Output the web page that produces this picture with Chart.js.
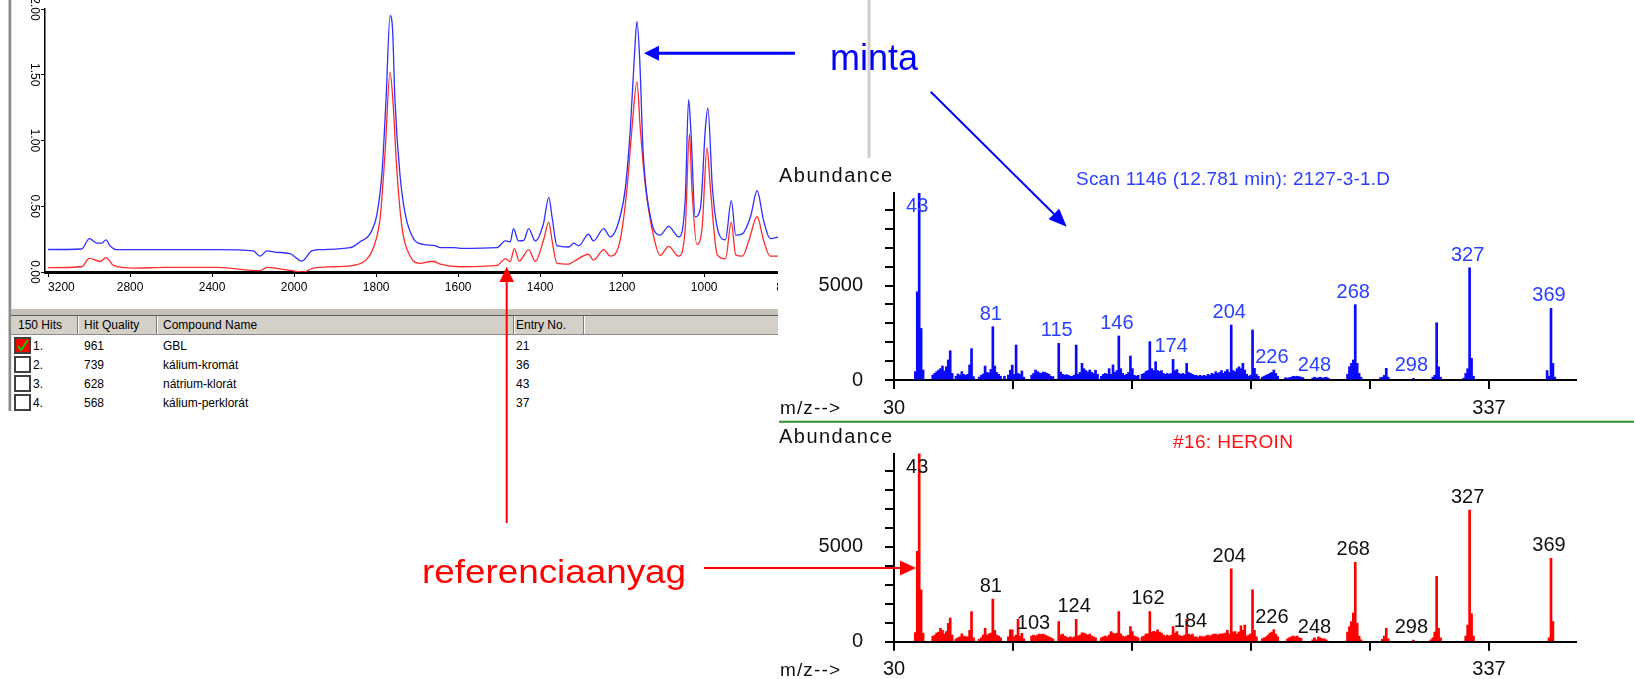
<!DOCTYPE html>
<html>
<head>
<meta charset="utf-8">
<script src="https://cdn.jsdelivr.net/npm/chart.js@4.4.0/dist/chart.umd.min.js"></script>
<style>
  html, body { margin: 0; padding: 0; background: #fff; }
  body { position: relative; width: 1634px; height: 679px; overflow: hidden;
         font-family: 'Liberation Sans', Arial, sans-serif; }
  canvas { position: absolute; }
  #irFrame { position: absolute; left: 8px; top: 0; width: 2px; height: 411px;
             background: #8a8a8a; border-left: 1px solid #c8c8c8; border-right: 1px solid #e6e6e6; }
  #hits { position: absolute; left: 11px; top: 309px; width: 767px; height: 102px;
          overflow: hidden; font-size: 12px; color: #000; }
  #hits .band { position: absolute; left: 0; top: 0; width: 100%; height: 6px; background: #c6c2ba; }
  #hits .head { position: absolute; left: 0; top: 6px; width: 100%; height: 18px; background: #d4d0c8;
                border-top: 1px solid #5a5a5a; border-bottom: 1px solid #8a8a8a; }
  #hits .sep { position: absolute; top: 0; width: 1px; height: 18px; background: #7a7a7a;
               border-right: 1px solid #fff; }
  #hits .cell { position: absolute; white-space: nowrap; line-height: 18px; }
  #hits .box { position: absolute; width: 13px; height: 13px; background: #fff;
               border: 2px solid #404040; }
  #notes { position: absolute; left: 0; top: 0; z-index: 5; }
</style>
</head>
<body>
<div id="irFrame"></div>
<canvas id="ir" width="778" height="300" style="left:0;top:0"></canvas>
<div id="hits">
  <div class="band"></div>
  <div class="head" id="hitsHead"></div>
</div>
<canvas id="msSample" width="864" height="236" style="left:770px;top:184px"></canvas>
<canvas id="msRef" width="864" height="234" style="left:770px;top:445px"></canvas>

<svg id="notes" width="1634" height="679" font-family="'Liberation Sans', Arial, sans-serif">
  <line x1="869" y1="0" x2="869" y2="158" stroke="#d2cec6" stroke-width="3"/>
  <line x1="779" y1="421.7" x2="1634" y2="421.7" stroke="#2f8f2f" stroke-width="2"/>

  <text x="779" y="182" font-size="20" fill="#111" textLength="113" lengthAdjust="spacing">Abundance</text>
  <text x="780" y="414" font-size="19" fill="#111" textLength="60" lengthAdjust="spacing">m/z--&gt;</text>
  <text x="1076" y="185" font-size="19" fill="#2a40ff" textLength="314" lengthAdjust="spacing">Scan 1146 (12.781 min): 2127-3-1.D</text>

  <text x="779" y="443" font-size="20" fill="#111" textLength="113" lengthAdjust="spacing">Abundance</text>
  <text x="780" y="676" font-size="19" fill="#111" textLength="60" lengthAdjust="spacing">m/z--&gt;</text>
  <text x="1173" y="448" font-size="19" fill="#ff1010" textLength="120" lengthAdjust="spacing">#16: HEROIN</text>

  <text x="830" y="70" font-size="36" fill="#0000ff" textLength="88" lengthAdjust="spacingAndGlyphs">minta</text>
  <text x="422" y="583" font-size="34" fill="#ff0000" textLength="264" lengthAdjust="spacingAndGlyphs">referenciaanyag</text>

  <!-- arrows -->
  <line x1="795" y1="53.3" x2="657" y2="53.3" stroke="#0000ff" stroke-width="3"/>
  <polygon points="644,53.3 659,45.8 659,60.8" fill="#0000ff"/>
  <line x1="930.7" y1="91.7" x2="1054" y2="214" stroke="#0000ff" stroke-width="2"/>
  <polygon points="1066.7,226.7 1048.6,219.3 1059.2,208.7" fill="#0000ff"/>
  <line x1="506.7" y1="523" x2="506.7" y2="281" stroke="#ff0000" stroke-width="2"/>
  <polygon points="506.7,266.7 499.5,282 513.9,282" fill="#ff0000"/>
  <line x1="704" y1="568" x2="901" y2="568" stroke="#ff0000" stroke-width="2"/>
  <polygon points="916,568 900,560.5 900,575.5" fill="#ff0000"/>
</svg>

<script>
// ---- IR spectrum (sample = blue, library reference = red) ----
const irWaveSample = [3200, 3036, 2999, 2962, 2938, 2917, 2898, 2865, 2377, 2199, 2166, 2133, 2085, 2020,
  1981, 1957, 1937, 1863, 1839, 1815, 1798, 1786, 1776, 1766, 1760, 1754, 1742, 1729, 1709, 1685,
  1656, 1644, 1611, 1595, 1505, 1485, 1473, 1465, 1453, 1440, 1428, 1412, 1392, 1379, 1371, 1359,
  1330, 1318, 1306, 1282, 1270, 1245, 1229, 1205, 1192, 1180, 1170, 1164, 1157, 1149, 1131, 1107,
  1087, 1062, 1046, 1038, 1032, 1022, 1009, 997, 991, 980, 964, 948, 934, 923, 907, 887, 871, 855, 839, 818];
const irAbsSample = [0.171, 0.175, 0.254, 0.22, 0.22, 0.245, 0.20, 0.17, 0.17, 0.16, 0.12, 0.16, 0.15, 0.14,
  0.083, 0.16, 0.17, 0.185, 0.23, 0.29, 0.44, 0.744, 1.30, 1.95, 1.85, 1.30, 0.744, 0.44, 0.254, 0.21,
  0.20, 0.185, 0.186, 0.18, 0.186, 0.236, 0.23, 0.33, 0.236, 0.24, 0.33, 0.236, 0.367, 0.568, 0.42, 0.20,
  0.19, 0.22, 0.20, 0.287, 0.236, 0.33, 0.267, 0.42, 0.643, 1.096, 1.65, 1.905, 1.60, 0.92, 0.42, 0.28,
  0.347, 0.267, 0.568, 1.31, 1.05, 0.42, 0.49, 1.096, 1.247, 0.643, 0.29, 0.245, 0.543, 0.28, 0.29, 0.42, 0.618, 0.39, 0.254, 0.267];

const irWaveRef = [3200, 3036, 2999, 2946, 2917, 2881, 2784, 2621, 2377, 2166, 2133, 2052, 1977, 1953,
  1904, 1855, 1822, 1806, 1790, 1778, 1766, 1758, 1750, 1737, 1717, 1692, 1668, 1660, 1644, 1595,
  1505, 1485, 1473, 1463, 1451, 1428, 1412, 1392, 1379, 1371, 1359, 1330, 1318, 1282, 1270, 1245,
  1229, 1205, 1188, 1176, 1164, 1156, 1143, 1123, 1107, 1087, 1062, 1046, 1036, 1030, 1018, 1005,
  993, 985, 968, 948, 934, 923, 907, 891, 871, 855, 839, 818];
const irAbsRef = [0.033, 0.04, 0.103, 0.08, 0.11, 0.05, 0.03, 0.035, 0.035, 0.01, 0.035, 0.02, 0.0, 0.03,
  0.04, 0.05, 0.10, 0.19, 0.417, 0.92, 1.52, 1.25, 0.80, 0.34, 0.12, 0.066, 0.08, 0.08, 0.06, 0.04,
  0.05, 0.10, 0.08, 0.178, 0.083, 0.17, 0.08, 0.24, 0.38, 0.24, 0.066, 0.06, 0.08, 0.135, 0.09, 0.17,
  0.12, 0.24, 0.643, 1.096, 1.448, 1.096, 0.643, 0.267, 0.126, 0.195, 0.12, 0.34, 1.05, 0.643, 0.21, 0.34,
  0.945, 0.643, 0.13, 0.10, 0.38, 0.13, 0.12, 0.24, 0.42, 0.24, 0.12, 0.12];

// 800 sits just past the cut-off right edge, as in the original window
const irTicksWave = [3200, 2800, 2400, 2000, 1800, 1600, 1400, 1200, 1000, 800];
const irTicksAbs = [0, 0.5, 1, 1.5, 2];

// ---- hit list ----
const hitRank = ['1.', '2.', '3.', '4.'];
const hitQuality = ['961', '739', '628', '568'];
const hitCompound = ['GBL', 'kálium-kromát', 'nátrium-klorát', 'kálium-perklorát'];
const hitEntry = ['21', '36', '43', '37'];
const hitHeaders = ['150 Hits', 'Hit Quality', 'Compound Name', 'Entry No.'];

// ---- mass spectra ----
const sampleMz = [41, 42, 43, 44, 45,
  50, 51, 52, 53, 54, 55, 56, 57, 58, 59, 60,
  62, 63, 64, 65, 66, 67, 68, 69, 70, 71,
  74, 75, 76, 77, 78, 79, 80, 81, 82, 83, 84, 85,
  87, 89, 90, 91, 92, 93, 94, 95, 96, 97,
  101, 102, 103, 104, 105, 106, 107, 108, 109, 110, 111, 112,
  115, 116, 117, 118, 119, 120, 121, 122, 123, 124, 125, 126, 127, 128, 129, 130, 131, 132, 133, 134, 135,
  137, 138, 139, 140, 141, 142, 143, 144, 145, 146, 147, 148, 149, 150, 151, 152, 153, 154, 155, 156,
  158, 159, 160, 161, 162, 163, 164, 165, 166, 167, 168, 169, 170, 171, 172, 173, 174, 175, 176, 177, 178, 179, 180, 181, 182, 183, 184, 185,
  186, 187, 188, 189, 190, 191, 192, 193, 194, 195, 196, 197, 198, 199, 200, 201, 202, 203, 204, 205, 206, 207, 208, 209, 210, 211, 212, 213, 214, 215, 216, 217, 218,
  220, 221, 222, 223, 224, 225, 226, 227, 228,
  232, 233, 234, 235, 236, 237, 238, 239, 240, 241,
  246, 247, 248, 249, 250, 251, 252, 253, 254,
  264, 265, 266, 267, 268, 269, 270, 271,
  281, 282, 283, 284, 285,
  298,
  308, 309, 310, 311, 312,
  324, 325, 326, 327, 328, 329,
  367, 368, 369, 370, 371];
const sampleAbund = [440, 4670, 10000, 2730, 530,
  260, 350, 440, 520, 600, 740, 480, 700, 1060, 1550, 350,
  200, 320, 260, 440, 300, 250, 300, 800, 1660, 180,
  150, 250, 320, 740, 400, 380, 560, 2820, 740, 400, 300, 200,
  200, 260, 520, 790, 300, 1850, 350, 300, 480, 150,
  250, 350, 530, 450, 380, 350, 420, 400, 350, 300, 200, 180,
  1940, 420, 300, 260, 280, 250, 200, 200, 260, 1850, 300, 400, 880, 600, 500, 420, 530, 400, 350, 520, 300,
  200, 300, 350, 300, 600, 300, 800, 400, 500, 2330, 600, 350, 250, 300, 400, 1270, 600, 250, 200, 250,
  300, 350, 450, 500, 2030, 600, 500, 970, 500, 450, 500, 350, 300, 350, 300, 350, 1090, 500, 550, 350, 300, 350, 300, 880, 400, 350, 300, 250,
  250, 200, 250, 200, 250, 200, 300, 250, 350, 300, 440, 350, 400, 500, 350, 450, 550, 400, 2910, 500, 440, 600, 700, 600, 880, 530, 300, 200, 250, 2650, 620, 300, 200,
  150, 200, 250, 300, 350, 400, 530, 350, 200,
  120, 100, 120, 150, 200, 180, 200, 180, 150, 120,
  100, 150, 100, 120, 150, 100, 120, 150, 100,
  300, 700, 880, 1060, 3990, 880, 350, 150,
  120, 150, 250, 620, 150,
  90,
  150, 250, 3030, 700, 150,
  100, 350, 600, 5940, 1150, 200,
  500, 200, 3790, 880, 150];
const sampleLabels = [43, 81, 115, 146, 174, 204, 226, 248, 268, 298, 327, 369];

const refMz = [41, 42, 43, 44, 45,
  50, 51, 52, 53, 54, 55, 56, 57, 58, 59, 60,
  62, 63, 64, 65, 66, 67, 68, 69, 70, 71,
  74, 75, 76, 77, 78, 79, 80, 81, 82, 83, 84, 85,
  89, 90, 91, 92, 93, 94, 95, 96, 97,
  101, 102, 103, 104, 105, 106, 107, 108, 109, 110, 111, 112,
  115, 116, 117, 118, 119, 120, 121, 122, 123, 124, 125, 126, 127, 128, 129, 130, 131, 132, 133, 134,
  137, 138, 139, 140, 141, 142, 143, 144, 145, 146, 147, 148, 149, 150, 151, 152, 153, 154, 155, 156,
  158, 159, 160, 161, 162, 163, 164, 165, 166, 167, 168, 169, 170, 171, 172, 173, 174, 175, 176, 177, 178, 179, 180, 181, 182, 183, 184, 185,
  186, 187, 188, 189, 190, 191, 192, 193, 194, 195, 196, 197, 198, 199, 200, 201, 202, 203, 204, 205, 206, 207, 208, 209, 210, 211, 212, 213, 214, 215, 216, 217,
  220, 221, 222, 223, 224, 225, 226, 227, 228,
  233, 234, 235, 236, 237, 238, 239, 240,
  246, 247, 248, 249, 250, 251, 252, 253,
  264, 265, 266, 267, 268, 269, 270, 271,
  282, 283, 284, 285,
  298,
  307, 308, 309, 310, 311, 312,
  325, 326, 327, 328, 329,
  368, 369, 370];
const refAbund = [476, 4760, 10050, 2730, 440,
  280, 350, 450, 500, 700, 600, 420, 530, 970, 1240, 350,
  150, 200, 250, 420, 300, 250, 250, 600, 1590, 200,
  120, 200, 350, 700, 350, 420, 450, 2240, 600, 350, 300, 200,
  250, 620, 620, 250, 350, 1180, 300, 440, 150,
  300, 350, 300, 350, 400, 380, 400, 350, 300, 250, 200, 150,
  1060, 350, 400, 300, 250, 200, 250, 200, 250, 1180, 300, 350, 470, 450, 400, 350, 400, 300, 250, 200,
  200, 250, 300, 250, 350, 530, 450, 400, 450, 1590, 420, 300, 250, 300, 350, 800, 530, 300, 250, 200,
  250, 300, 400, 420, 1590, 500, 550, 500, 620, 500, 450, 350, 300, 350, 300, 350, 800, 450, 530, 350, 300, 300, 350, 1180, 400, 350, 400, 250,
  250, 200, 300, 250, 250, 300, 350, 300, 350, 400, 400, 350, 400, 420, 420, 450, 600, 400, 3830, 500, 530, 400, 500, 830, 600, 880, 300, 350, 420, 2730, 600, 250,
  150, 200, 250, 350, 450, 500, 640, 400, 250,
  150, 200, 250, 300, 250, 300, 200, 180,
  100, 200, 100, 250, 200, 150, 150, 100,
  500, 800, 1060, 1500, 4180, 970, 300, 100,
  120, 300, 700, 150,
  90,
  100, 200, 500, 3440, 700, 200,
  300, 880, 6930, 1460, 300,
  200, 4380, 1060];
const refLabels = [43, 81, 103, 124, 162, 184, 204, 226, 248, 268, 298, 327, 369];

const msTicksMz = [30, 91.4, 152.8, 214.2, 275.6, 337];
const msTickLabels = [30, 337];
const msTicksAbund = [0, 1000, 2000, 3000, 4000, 5000, 6000, 7000, 8000, 9000];
const msAbundLabels = [0, 5000];

Chart.defaults.font.family = "'Liberation Sans', Arial, sans-serif";
Chart.defaults.color = '#000';

// the IR axis is compressed above 2000 cm-1 (half scale), so plot on a folded axis
function toFold(w) { return w >= 2000 ? 3200 - w : 1200 + (2000 - w) * 2; }
function fromFold(p) { return p <= 1200 ? 3200 - p : 2000 - (p - 1200) / 2; }

// fixed axis sizes, no extra label padding pushed into the layout
function fixWidth(w) {
  return (s) => { s.width = w; s.paddingTop = 0; s.paddingBottom = 0; };
}
function fixHeight(h) {
  return (s) => { s.height = h; s.paddingLeft = 0; s.paddingRight = 0; };
}

new Chart(document.getElementById('ir'), {
  type: 'line',
  data: {
    datasets: [
      {
        label: 'minta',
        data: irWaveSample.map((w, i) => ({ x: toFold(w), y: irAbsSample[i] })),
        borderColor: '#2f2fff',
        borderWidth: 1.3,
        pointRadius: 0,
        cubicInterpolationMode: 'monotone'
      },
      {
        label: 'referencia',
        data: irWaveRef.map((w, i) => ({ x: toFold(w), y: irAbsRef[i] })),
        borderColor: '#ff2a2a',
        borderWidth: 1.3,
        pointRadius: 0,
        cubicInterpolationMode: 'monotone'
      }
    ]
  },
  options: {
    responsive: false,
    animation: false,
    devicePixelRatio: 1,
    layout: { padding: { top: 9, right: 0, bottom: 0, left: 0 } },
    plugins: { legend: { display: false }, tooltip: { enabled: false } },
    scales: {
      x: {
        type: 'linear',
        min: -15,
        max: 3560,
        afterBuildTicks: (s) => {
          // trailing blank tick so that 'inner' only left-aligns the first label
          s.ticks = irTicksWave.map(w => ({ value: toFold(w) })).concat([{ value: 4000 }]);
        },
        afterFit: fixHeight(28),
        ticks: { autoSkip: false, maxRotation: 0, padding: 3, align: 'inner', font: { size: 12 }, color: '#000',
                 callback: (v) => v > 3600 ? '' : String(fromFold(v)) },
        grid: { drawOnChartArea: false, drawTicks: true, tickLength: 5, color: '#000' },
        border: { display: true, color: '#000', width: 3 }
      },
      y: {
        min: 0,
        max: 2,
        afterBuildTicks: (s) => { s.ticks = irTicksAbs.map(v => ({ value: v })); },
        afterFit: fixWidth(45),
        ticks: { autoSkip: false, minRotation: -90, maxRotation: -90, crossAlign: 'center', padding: -5,
                 font: { size: 12 }, color: '#000', callback: (v) => v.toFixed(2) },
        grid: { drawOnChartArea: false, drawTicks: true, tickLength: 4, color: '#000' },
        border: { display: true, color: '#000', width: 1.5 }
      }
    }
  }
});

// mass-spectrum peak labels, centred above the peak and kept inside the plot
function peakLabels(id, mzList, abundList, labelList, color) {
  return {
    id: id,
    afterDatasetsDraw(chart) {
      const { ctx, chartArea, scales: { x, y } } = chart;
      ctx.save();
      ctx.font = "20px 'Liberation Sans', Arial, sans-serif";
      ctx.fillStyle = color;
      ctx.textAlign = 'center';
      ctx.textBaseline = 'alphabetic';
      labelList.forEach(m => {
        const i = mzList.indexOf(m);
        const h = i >= 0 ? abundList[i] : 0;
        let base = y.getPixelForValue(Math.min(h, y.max)) - 7;
        base = Math.max(base, chartArea.top + 19);
        ctx.fillText(String(m), x.getPixelForValue(m) - 2, base);
      });
      ctx.restore();
    }
  };
}

function massSpectrum(canvasId, mzList, abundList, barColor, labelList, labelColor, padTop, axisHeight) {
  return new Chart(document.getElementById(canvasId), {
    type: 'bar',
    data: {
      datasets: [{
        data: mzList.map((m, i) => ({ x: m, y: abundList[i] })),
        backgroundColor: barColor,
        borderWidth: 0,
        barThickness: 2
      }]
    },
    options: {
      responsive: false,
      animation: false,
      devicePixelRatio: 1,
      layout: { padding: { top: padTop, right: 58, bottom: 0, left: 0 } },
      plugins: { legend: { display: false }, tooltip: { enabled: false } },
      scales: {
        x: {
          type: 'linear',
          offset: false,
          min: 30,
          max: 381.9,
          afterBuildTicks: (s) => { s.ticks = msTicksMz.map(v => ({ value: v })); },
          afterFit: fixHeight(axisHeight),
          ticks: { autoSkip: false, maxRotation: 0, padding: 7, font: { size: 20 }, color: '#111',
                   callback: (v) => msTickLabels.includes(v) ? String(v) : '' },
          grid: { offset: false, drawOnChartArea: false, drawTicks: true, tickLength: 9, color: '#000', lineWidth: 2 },
          border: { display: true, color: '#000', width: 2 }
        },
        y: {
          min: 0,
          max: 9900,
          afterBuildTicks: (s) => { s.ticks = msTicksAbund.map(v => ({ value: v })); },
          afterFit: fixWidth(124),
          ticks: { autoSkip: false, padding: 22, font: { size: 20 }, color: '#111',
                   callback: (v) => msAbundLabels.includes(v) ? String(v) : '' },
          grid: { drawOnChartArea: false, drawTicks: true, tickLength: 9, color: '#000', lineWidth: 2 },
          border: { display: true, color: '#000', width: 2 }
        }
      }
    },
    plugins: [peakLabels(canvasId + 'Labels', mzList, abundList, labelList, labelColor)]
  });
}

massSpectrum('msSample', sampleMz, sampleAbund, '#0a0aff', sampleLabels, '#2a40ff', 9, 40);
massSpectrum('msRef', refMz, refAbund, '#ff0000', refLabels, '#111', 8.5, 37.3);

// hit list table
const hits = document.getElementById('hits');
const head = document.getElementById('hitsHead');
const colText = [7, 73, 152, 505];
const colSep = [66, 145, 502, 572];
colSep.forEach(x => {
  const d = document.createElement('div');
  d.className = 'sep';
  d.style.left = x + 'px';
  head.appendChild(d);
});
hitHeaders.forEach((t, i) => {
  const d = document.createElement('div');
  d.className = 'cell';
  d.style.left = colText[i] + 'px';
  d.style.top = '0px';
  d.textContent = t;
  head.appendChild(d);
});
hitRank.forEach((r, i) => {
  const top = 27.5 + i * 19.3;
  const box = document.createElement('div');
  box.className = 'box';
  box.style.left = '3px';
  box.style.top = top + 'px';
  if (i === 0) {
    box.style.background = '#ff0000';
    box.innerHTML = '<svg width="13" height="13"><polyline points="2,7 5,11 12,1" fill="none" stroke="#00d000" stroke-width="2"/></svg>';
  }
  hits.appendChild(box);
  [[22, r], [colText[1], hitQuality[i]], [colText[2], hitCompound[i]], [colText[3], hitEntry[i]]].forEach(([x, t]) => {
    const d = document.createElement('div');
    d.className = 'cell';
    d.style.left = x + 'px';
    d.style.top = top + 'px';
    d.textContent = t;
    hits.appendChild(d);
  });
});
</script>
</body>
</html>
